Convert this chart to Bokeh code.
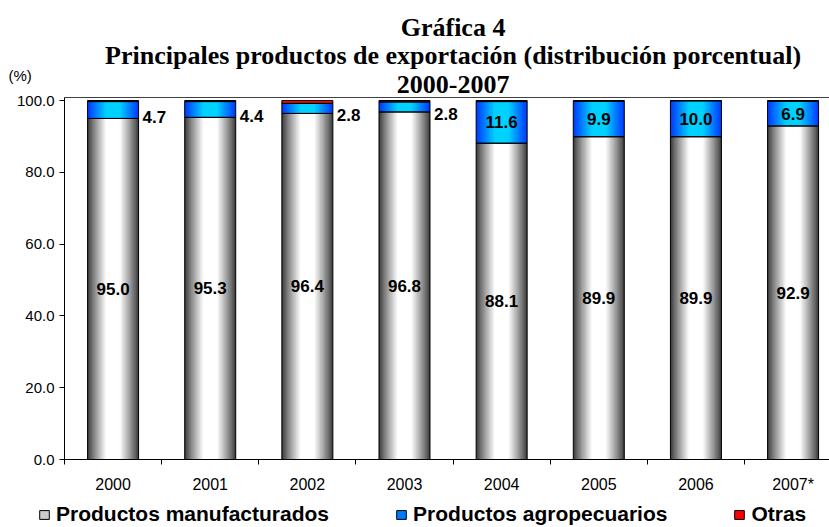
from bokeh.plotting import figure
from bokeh.models import (ColumnDataSource, Range1d, FixedTicker, NumeralTickFormatter,
                          LabelSet, Label, Legend, LegendItem, LinearAxis)
from bokeh.core.properties import value
from bokeh.embed import file_html
from bokeh.resources import INLINE

# ---- data ----
years = ["2000", "2001", "2002", "2003", "2004", "2005", "2006", "2007*"]
manufacturados = [95.0, 95.3, 96.4, 96.8, 88.1, 89.9, 89.9, 92.9]
agropecuarios = [4.7, 4.4, 2.8, 2.8, 11.6, 9.9, 10.0, 6.9]
otras = [0.3, 0.3, 0.8, 0.4, 0.3, 0.2, 0.1, 0.2]
y_ticks = [0, 20, 40, 60, 80, 100]
series_names = ["Productos manufacturados", "Productos agropecuarios", "Otras"]
title_lines = ["Gráfica 4",
               "Principales productos de exportación (distribución porcentual)",
               "2000-2007"]
unit_label = "(%)"

idx = list(range(len(years)))
zeros = [0.0] * len(years)
agro_top = [m + a for m, a in zip(manufacturados, agropecuarios)]
otras_top = [t + o for t, o in zip(agro_top, otras)]

SANS = "Liberation Sans"
SERIF = "Liberation Serif"
BAR_W = 0.525
N = 20
X0, X1 = -1.1588, 7.375      # whole canvas; plot area starts at -0.5
Y0, Y1 = -18.94, 127.86      # whole canvas; plot area 0 .. Y_TOP
Y_TOP = 100.84

p = figure(width=829, height=527, title=None,
           x_range=Range1d(X0, X1), y_range=Range1d(Y0, Y1),
           x_axis_location=None, y_axis_location=None,
           output_backend="svg", toolbar_location=None,
           min_border_left=0, min_border_right=0, min_border_top=0, min_border_bottom=0)
p.xgrid.visible = False
p.ygrid.visible = False
p.outline_line_color = None
p.background_fill_color = "white"
p.border_fill_color = "white"


def gray_col(d):
    v = int(round(64 + 191 * min(1.0, d / 0.75) ** 0.9))
    return "#%02x%02x%02x" % (v, v, v)


def blue_col(d):
    g = int(round(60 + 150 * min(1.0, d / 0.75)))
    return "#%02x%02x%02x" % (0, g, 255)


gray_levels = []
blue_levels = []
for k in range(N):
    d = k / (N - 1)
    w = BAR_W * (1 - k / N)
    gray_levels.append(p.vbar(x=idx, bottom=zeros, top=manufacturados, width=w,
                              fill_color=gray_col(d), line_color=None))
for k in range(N):
    d = k / (N - 1)
    w = BAR_W * (1 - k / N)
    blue_levels.append(p.vbar(x=idx, bottom=manufacturados, top=agro_top, width=w,
                              fill_color=blue_col(d), line_color=None))

r_otras = p.vbar(x=idx, bottom=agro_top, top=otras_top, width=BAR_W,
                 fill_color="#ff0000", line_color="black", line_width=1)
out_manuf = p.vbar(x=idx, bottom=zeros, top=manufacturados, width=BAR_W,
                   fill_color=None, line_color="black", line_width=1)
out_agro = p.vbar(x=idx, bottom=manufacturados, top=agro_top, width=BAR_W,
                  fill_color=None, line_color="black", line_width=1)

# ---- axes (placed at fixed data locations) ----
xa = LinearAxis(fixed_location=0, bounds=(-0.5, X1),
                ticker=FixedTicker(ticks=idx, minor_ticks=[i - 0.5 for i in idx]),
                major_label_overrides={i: y for i, y in zip(idx, years)},
                major_tick_out=0, major_tick_in=0, minor_tick_out=5, minor_tick_in=0,
                minor_tick_line_color="black", axis_line_color="black",
                major_label_standoff=11, major_label_text_font=SANS,
                major_label_text_font_size="16px", major_label_text_color="black")
p.add_layout(xa, "below")

ya = LinearAxis(fixed_location=-0.5, bounds=(0, Y_TOP),
                ticker=FixedTicker(ticks=y_ticks), formatter=NumeralTickFormatter(format="0.0"),
                major_tick_out=5, major_tick_in=0, minor_tick_out=0, minor_tick_in=0,
                axis_line_color="black", major_tick_line_color="black",
                major_label_standoff=5, major_label_text_font=SANS,
                major_label_text_font_size="15px", major_label_text_color="black")
p.add_layout(ya, "left")

# top border line of the plot area
top_line = LinearAxis(fixed_location=Y_TOP, bounds=(-0.5, X1), ticker=FixedTicker(ticks=[]),
                      major_tick_out=0, major_tick_in=0, minor_tick_out=0, minor_tick_in=0,
                      major_label_text_alpha=0, axis_line_color="#404040")
p.add_layout(top_line, "above")

# ---- data labels ----
lab_font = dict(text_font=value(SANS), text_font_size="17px", text_font_style="bold",
                text_color="black")
src_m = ColumnDataSource(dict(x=idx, y=[m / 2 for m in manufacturados],
                              text=["%.1f" % m for m in manufacturados]))
p.add_layout(LabelSet(x="x", y="y", text="text", source=src_m,
                      text_align="center", text_baseline="middle", **lab_font))

out_i = [i for i in idx if agropecuarios[i] < 5]
in_i = [i for i in idx if agropecuarios[i] >= 5]
src_ao = ColumnDataSource(dict(x=[i + BAR_W / 2 for i in out_i],
                               y=[manufacturados[i] + agropecuarios[i] / 2 for i in out_i],
                               text=["%.1f" % agropecuarios[i] for i in out_i]))
p.add_layout(LabelSet(x="x", y="y", text="text", source=src_ao, x_offset=4, y_offset=-7,
                      text_align="left", text_baseline="middle", **lab_font))
src_ai = ColumnDataSource(dict(x=in_i,
                               y=[manufacturados[i] + agropecuarios[i] / 2 for i in in_i],
                               text=["%.1f" % agropecuarios[i] for i in in_i]))
p.add_layout(LabelSet(x="x", y="y", text="text", source=src_ai,
                      text_align="center", text_baseline="middle", **lab_font))

# ---- title lines (centred over the categories) ----
for txt, yb in zip(title_lines, [120.4, 112.5, 104.5]):
    p.add_layout(Label(x=3.5, y=yb, text=txt, text_align="center",
                       text_baseline="alphabetic", text_font=SERIF, text_font_size="26px",
                       text_font_style="bold", text_color="black"))

p.add_layout(Label(x=X0 + 0.082, y=107.0, text=unit_label, text_align="left",
                   text_baseline="middle", text_font=SANS, text_font_size="15px",
                   text_color="black"))

# ---- legend ----
legend = Legend(items=[
    LegendItem(label=series_names[0], renderers=[gray_levels[N // 2], out_manuf]),
    LegendItem(label=series_names[1], renderers=[blue_levels[N // 3], out_agro]),
    LegendItem(label=series_names[2], renderers=[r_otras]),
], location=(38, 1), orientation="horizontal", spacing=66,
    glyph_width=12, glyph_height=11, label_standoff=6,
    label_text_font=SANS, label_text_font_size="21px", label_text_font_style="bold",
    label_text_color="black", border_line_color=None, background_fill_alpha=0,
    padding=0, margin=0)
p.add_layout(legend)

open("out.html", "w").write(file_html(p, INLINE))
